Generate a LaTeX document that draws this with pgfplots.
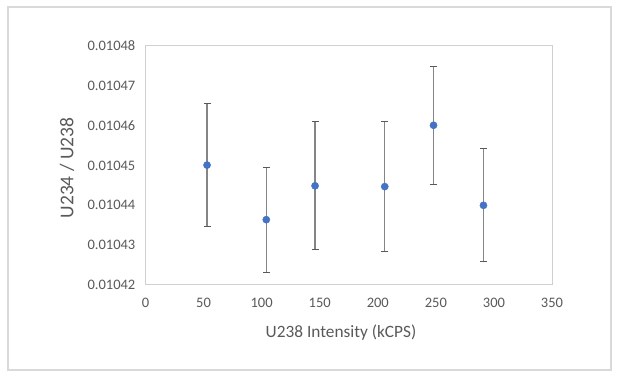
\documentclass[border=0pt]{standalone}
\usepackage{pgfplots}
\pgfplotsset{compat=1.18}
\usepackage{fontspec}
\setmainfont{Carlito}
\definecolor{txt}{HTML}{595959}
\definecolor{framec}{HTML}{D0D0D0}
\definecolor{outerc}{HTML}{D9D9D9}
\definecolor{ptc}{HTML}{4472C4}
\definecolor{ebar}{HTML}{858585}
\begin{document}
\begin{tikzpicture}[x=1pt,y=1pt]
\useasboundingbox (0,0) rectangle (617,377);
\draw[outerc, line width=1.5pt] (8,7) rectangle (611,370);
\begin{axis}[at={(145.5pt,92pt)}, anchor=south west, scale only axis,
 width=406.5pt, height=239pt,
 xmin=0, xmax=350, ymin=0.01042, ymax=0.01048,
 scaled y ticks=false, scaled x ticks=false,
 xtick={0,50,100,150,200,250,300,350},
 xticklabels={0,50,100,150,200,250,300,350},
 ytick={0.01042,0.01043,0.01044,0.01045,0.01046,0.01047,0.01048},
 yticklabels={0.01042,0.01043,0.01044,0.01045,0.01046,0.01047,0.01048},
 major tick length=0pt,
 axis line style={framec, line width=1pt},
 tick label style={font=\fontsize{14.5}{16}\selectfont, text=txt, inner sep=0pt},
 yticklabel style={anchor=east, xshift=-10pt},
 xticklabel style={anchor=north, yshift=-13pt},
 clip=false]
\addplot[only marks, mark=*, mark size=3.6pt, mark options={fill=ptc, draw=ptc},
  error bars/.cd, y dir=both, y explicit,
  error bar style={ebar, line width=1.4pt},
  error mark options={rotate=90, mark size=3.5pt, line width=1pt, draw=txt}]
 table[x=x, y=y, y error=e] {
 x   y          e
 53  0.0104501  0.0000154
 104 0.0104364  0.0000132
 146 0.0104449  0.0000161
 206 0.0104447  0.0000164
 248 0.0104601  0.0000148
 291 0.0104400  0.0000142
};
\end{axis}
\node[rotate=90, text=txt, font=\fontsize{19.5}{22}\selectfont] at (67,209) {U234 / U238};
\node[text=txt, font=\fontsize{17.3}{20}\selectfont] at (341,44) {U238 Intensity (kCPS)};
\end{tikzpicture}
\end{document}
